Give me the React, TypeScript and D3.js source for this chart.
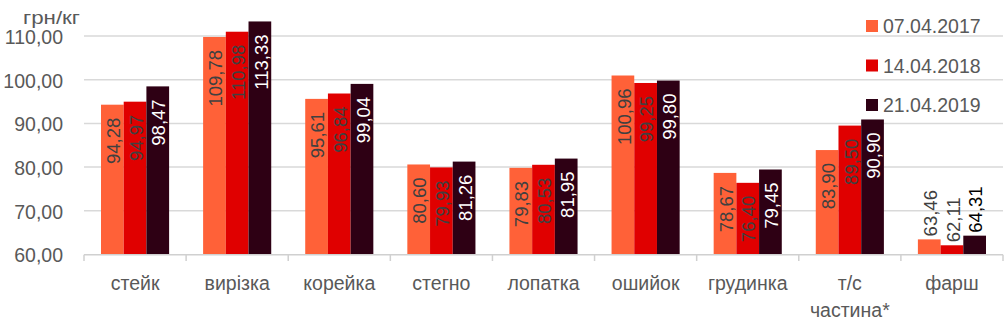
import React from "react";
import * as d3 from "d3";

const categories = ["стейк", "вирізка", "корейка", "стегно", "лопатка", "ошийок", "грудинка", "т/с\nчастина*", "фарш"];
const seriesNames = ["07.04.2017", "14.04.2018", "21.04.2019"];
const s2017 = [94.28, 109.78, 95.61, 80.6, 79.83, 100.96, 78.67, 83.9, 63.46];
const s2018 = [94.97, 110.98, 96.84, 79.93, 80.53, 99.25, 76.4, 89.5, 62.11];
const s2019 = [98.47, 113.33, 99.04, 81.26, 81.95, 99.8, 79.45, 90.9, 64.31];
const yTicks = [60, 70, 80, 90, 100, 110];
const yTitle = "грн/кг";

const colors = ["#FF6138", "#E00000", "#2E0014"];
const insideLabelColors = ["#404040", "#404040", "#FFFFFF"];
const outsideLabelColors = ["#404040", "#404040", "#000000"];

const W = 1004;
const H = 326;
const FONT = "'Liberation Sans', Arial, sans-serif";

export default function App() {
  const series = [s2017, s2018, s2019];
  const x = d3.scaleBand<string>().domain(categories).range([84, 1003]);
  const xi = d3
    .scaleBand<string>()
    .domain(seriesNames)
    .range([17, x.bandwidth() - 17]);
  const y = d3.scaleLinear().domain([60, 110]).range([254.5, 36]);
  const fmt = (v: number) => d3.format(".2f")(v).replace(".", ",");
  const labelFs = 18.5;
  const pad = 13;

  return (
    <svg
      width={W}
      height={H}
      style={{ position: "absolute", left: 0, top: 0, background: "#fff" }}
      fontFamily={FONT}
    >
      {/* gridlines */}
      {yTicks.slice(1).map((t) => (
        <line key={t} x1={84} x2={1003} y1={y(t)} y2={y(t)} stroke="#d9d9d9" strokeWidth={1.5} />
      ))}
      {/* y labels */}
      {yTicks.map((t) => (
        <text key={t} x={63} y={y(t)} dy="0.4em" textAnchor="end" fontSize={19.5} fill="#595959">
          {fmt(t)}
        </text>
      ))}
      <text x={23} y={24} fontSize={19} fill="#595959" textLength={57} lengthAdjust="spacingAndGlyphs">
        {yTitle}
      </text>
      {/* bars */}
      {categories.map((c, ci) => (
        <g key={c} transform={`translate(${x(c)},0)`}>
          {series.map((s, si) => {
            const v = s[ci];
            const bx = xi(seriesNames[si])!;
            const bw = xi.bandwidth();
            const top = y(v);
            return (
              <rect key={si} x={bx} y={top} width={bw} height={y(60) - top} fill={colors[si]} />
            );
          })}
        </g>
      ))}
      {/* axis */}
      <line x1={84} x2={1003} y1={254.8} y2={254.8} stroke="#d0d0d0" strokeWidth={1.5} />
      {d3.range(categories.length + 1).map((i) => {
        const tx = 84 + i * x.bandwidth();
        return <line key={i} x1={tx} x2={tx} y1={254.8} y2={261} stroke="#d0d0d0" strokeWidth={1.5} />;
      })}
      {/* data labels */}
      {categories.map((c, ci) => (
        <g key={c} transform={`translate(${x(c)},0)`}>
          {series.map((s, si) => {
            const v = s[ci];
            const cx = xi(seriesNames[si])! + xi.bandwidth() / 2;
            const top = y(v);
            const h = y(60) - top;
            const inside = h > 70;
            const ly = inside ? top + pad : top - 3;
            return (
              <text
                key={si}
                transform={`translate(${cx + 1},${ly}) rotate(-90)`}
                textAnchor={inside ? "end" : "start"}
                dy="0.36em"
                fontSize={labelFs}
                fill={inside ? insideLabelColors[si] : outsideLabelColors[si]}
              >
                {fmt(v)}
              </text>
            );
          })}
        </g>
      ))}
      {/* category labels */}
      {categories.map((c) => {
        const lines = c.split("\n");
        return (
          <text key={c} x={x(c)! + x.bandwidth() / 2} y={290} textAnchor="middle" fontSize={19.5} fill="#595959">
            {lines.map((l, li) => (
              <tspan key={li} x={x(c)! + x.bandwidth() / 2} dy={li === 0 ? 0 : 26.5}>
                {l}
              </tspan>
            ))}
          </text>
        );
      })}
      {/* legend */}
      {seriesNames.map((n, i) => {
        const ly = 26 + i * 39.5;
        return (
          <g key={n}>
            <rect x={866} y={ly - 6} width={12} height={12} fill={colors[i]} />
            <text x={883} y={ly} dy="0.36em" fontSize={19.5} fill="#595959">
              {n}
            </text>
          </g>
        );
      })}
    </svg>
  );
}
